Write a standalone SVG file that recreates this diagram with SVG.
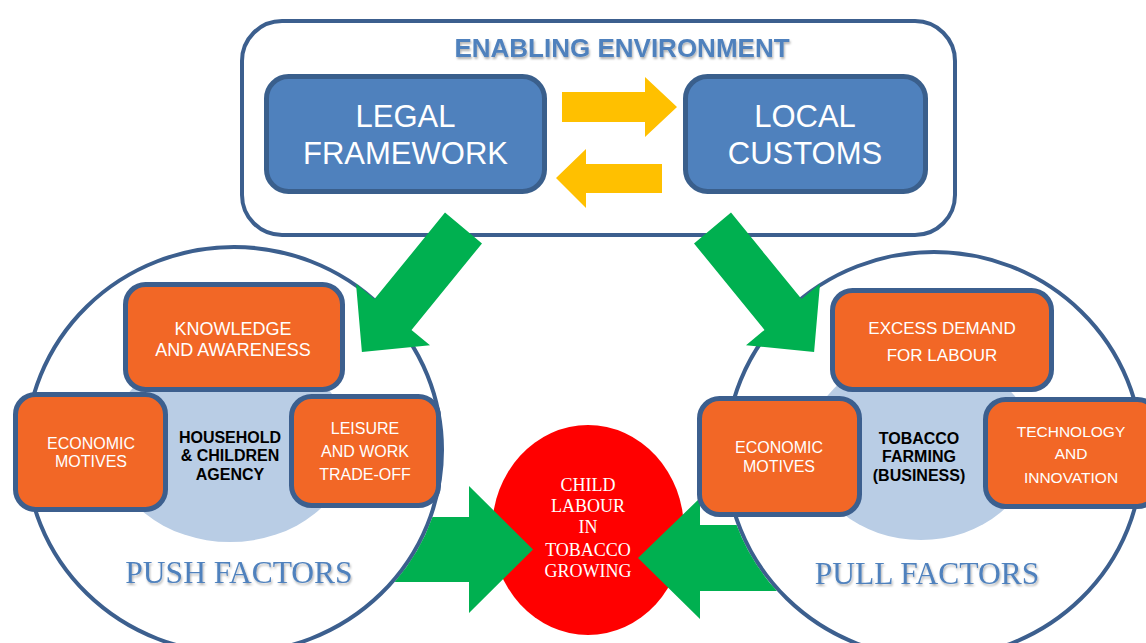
<svg xmlns="http://www.w3.org/2000/svg" width="1146" height="643" viewBox="0 0 1146 643">
  <defs>
    <filter id="softShadow" x="-10%" y="-30%" width="120%" height="160%">
      <feDropShadow dx="1" dy="2" stdDeviation="1" flood-color="#000" flood-opacity="0.3"/>
    </filter>
    <style>
      .frame { fill: #fff; stroke: #3c5f8e; stroke-width: 4; }
      .blueBox { fill: #4f81bd; stroke: #3a5f8c; stroke-width: 5; }
      .orangeBox { fill: #f26726; stroke: #3c5f8e; stroke-width: 5; }
      .hub { fill: #b9cde5; }
      .green { fill: #00b050; }
      .yellow { fill: #ffc000; }
      .t { font-family: "Liberation Sans", Arial, sans-serif; text-anchor: middle; }
      .white { fill: #fff; }
      .big { font-size: 31px; }
      .box { font-size: 16px; }
      .hubText { font-size: 16px; font-weight: bold; fill: #000; }
      .title { font-size: 26px; font-weight: bold; fill: #4f81bd; }
      .factor { font-family: "Liberation Serif", "Times New Roman", serif; font-size: 31.5px; fill: #4f81bd; text-anchor: middle; }
      .serifWhite { font-family: "Liberation Serif", "Times New Roman", serif; font-size: 18px; fill: #fff; text-anchor: middle; }
    </style>
  </defs>

  <rect width="1146" height="643" fill="#fff"/>

  <!-- Enabling environment frame -->
  <g id="enabling-environment">
    <rect class="frame" x="242" y="21" width="713" height="214" rx="40"/>
    <text class="t title" x="622" y="57" filter="url(#softShadow)">ENABLING ENVIRONMENT</text>
  </g>

  <g id="legal-framework">
    <rect class="blueBox" x="266.5" y="76.5" width="278" height="115" rx="22"/>
    <text class="t white big" x="405.5" y="127">LEGAL</text>
    <text class="t white big" x="405.5" y="164">FRAMEWORK</text>
  </g>

  <g id="local-customs">
    <rect class="blueBox" x="685.5" y="76.5" width="240" height="115" rx="22"/>
    <text class="t white big" x="805" y="127">LOCAL</text>
    <text class="t white big" x="805" y="164">CUSTOMS</text>
  </g>

  <!-- Push factors circle -->
  <g id="push-factors">
    <ellipse class="frame" cx="234" cy="450" rx="208" ry="203"/>
    <ellipse class="hub" cx="230" cy="445" rx="120" ry="97"/>
    <text class="factor" x="239" y="583" filter="url(#softShadow)">PUSH FACTORS</text>
  </g>

  <!-- Pull factors circle -->
  <g id="pull-factors">
    <ellipse class="frame" cx="934" cy="455" rx="208" ry="203"/>
    <ellipse class="hub" cx="921" cy="447" rx="112" ry="93"/>
    <text class="factor" x="927" y="584" filter="url(#softShadow)">PULL FACTORS</text>
  </g>

  <!-- Central outcome -->
  <g id="child-labour">
    <ellipse cx="588" cy="530" rx="96" ry="105" fill="#ff0000"/>
  </g>

  <!-- Connectors -->
  <g id="connectors">
    <polygon class="yellow" points="562,92 645,92 645,77 677,107 645,137 645,122 562,122"/>
    <polygon class="yellow" points="662,164 586,164 586,149 556,178 586,208 586,193 662,193"/>
    <polygon class="green" points="445,212.6 482,243.4 411.5,329.9 430,345.2 361.9,351.9 356,283.8 374.5,299.1"/>
    <polygon class="green" points="731,212.6 694,243.4 764.5,329.9 746,345.2 814.1,351.9 820,283.8 801.5,299.1"/>
    <path class="green" d="M432.5,517 L469,517 L469,486 L533,549.5 L469,613 L469,582 L394.7,582 A210,205 0 0 0 432.5,517 Z"/>
    <path class="green" d="M638,558 L700,498 L700,525 L736.6,525 A210,205 0 0 0 776.9,591 L700,591 L700,619 Z"/>
  </g>

  <g id="child-labour-label">
    <text class="serifWhite" x="588" y="491">CHILD</text>
    <text class="serifWhite" x="588" y="512">LABOUR</text>
    <text class="serifWhite" x="588" y="533">IN</text>
    <text class="serifWhite" x="588" y="556">TOBACCO</text>
    <text class="serifWhite" x="588" y="577">GROWING</text>
  </g>

  <!-- Push factor boxes -->
  <g id="knowledge-awareness">
    <rect class="orangeBox" x="125.5" y="284.5" width="217" height="105" rx="20"/>
    <text class="t white" font-size="18" x="233" y="335">KNOWLEDGE</text>
    <text class="t white" font-size="18" x="233" y="356">AND AWARENESS</text>
  </g>

  <g id="economic-motives-push">
    <rect class="orangeBox" x="15.5" y="394.5" width="150" height="115" rx="20"/>
    <text class="t white box" x="91" y="449">ECONOMIC</text>
    <text class="t white box" x="91" y="467">MOTIVES</text>
  </g>

  <g id="household-agency">
    <text class="t hubText" x="230" y="443">HOUSEHOLD</text>
    <text class="t hubText" x="230" y="461">&amp; CHILDREN</text>
    <text class="t hubText" x="230" y="480">AGENCY</text>
  </g>

  <g id="leisure-work">
    <rect class="orangeBox" x="291.5" y="396.5" width="147" height="109" rx="20"/>
    <text class="t white box" x="365" y="434">LEISURE</text>
    <text class="t white box" x="365" y="457">AND WORK</text>
    <text class="t white box" x="365" y="480">TRADE-OFF</text>
  </g>

  <!-- Pull factor boxes -->
  <g id="excess-demand">
    <rect class="orangeBox" x="832.5" y="290.5" width="219" height="99" rx="20"/>
    <text class="t white" font-size="17" x="942" y="334">EXCESS DEMAND</text>
    <text class="t white" font-size="17" x="942" y="361">FOR LABOUR</text>
  </g>

  <g id="economic-motives-pull">
    <rect class="orangeBox" x="699.5" y="398.5" width="160" height="116" rx="20"/>
    <text class="t white box" x="779" y="453">ECONOMIC</text>
    <text class="t white box" x="779" y="472">MOTIVES</text>
  </g>

  <g id="tobacco-farming">
    <text class="t hubText" x="919" y="444">TOBACCO</text>
    <text class="t hubText" x="919" y="462">FARMING</text>
    <text class="t hubText" x="919" y="481">(BUSINESS)</text>
  </g>

  <g id="technology-innovation">
    <rect class="orangeBox" x="985.5" y="399.5" width="172" height="107" rx="20"/>
    <text class="t white" font-size="15.5" x="1071" y="437">TECHNOLOGY</text>
    <text class="t white" font-size="15.5" x="1071" y="459">AND</text>
    <text class="t white" font-size="15.5" x="1071" y="483">INNOVATION</text>
  </g>
</svg>
